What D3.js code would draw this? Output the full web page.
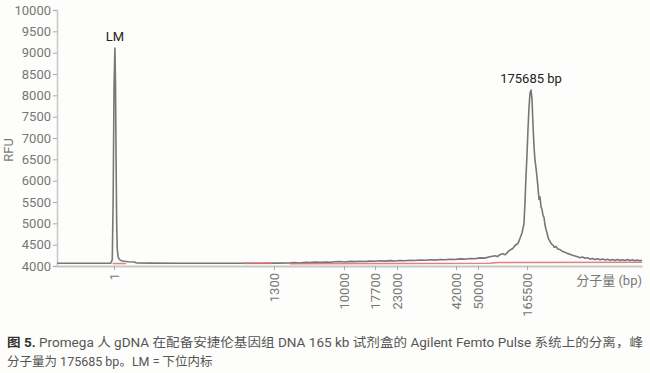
<!DOCTYPE html>
<html><head><meta charset="utf-8">
<script src="https://cdn.jsdelivr.net/npm/d3@7"></script>
<style>
html,body{margin:0;padding:0;background:#fdfdfb;}
svg{display:block;}
text{font-family:Roboto,"Noto Sans CJK SC",sans-serif;}
</style></head>
<body><svg id="c" width="650" height="373"></svg>
<script>
// ---- data ----
const yTicks = [4000,4500,5000,5500,6000,6500,7000,7500,8000,8500,9000,9500,10000];
// ladder sizes (bp) and their migration position (% of run)
const ladderLabels = ["1","1300","10000","17700","23000","42000","50000","165500"];
const ladderPos = [9.74,37.09,49.06,54.36,58.12,68.21,71.97,80.34];
// trace: [position (% of run), RFU]
const trace = [
[0,4065],[3.9,4066],[7.4,4065],[9.2,4066],[9.45,4150],[9.6,5600],[9.75,8200],[9.9,9110],[10.0,8300],[10.1,6500],[10.2,5000],[10.3,4400],[10.45,4210],[10.7,4150],[11.0,4125],[11.5,4110],[12.2,4100],[13.2,4095],[13.6,4072],[15.9,4067],[21,4066],[24.4,4065],[29.6,4066],[34.7,4066],[37.5,4068],[39.8,4070],
[40.5,4078],[41.5,4072],[42.5,4085],[43.2,4080],[44.0,4090],[45.0,4084],[46.0,4095],[46.7,4088],[47.5,4098],[48.4,4105],[49.2,4095],[50.1,4108],[51.0,4102],[51.8,4112],[52.6,4104],[53.5,4115],[54.3,4110],[55.2,4122],[56.0,4114],[56.9,4125],[57.8,4118],[58.6,4130],[59.5,4124],[60.3,4135],[61.2,4128],[62.0,4140],[62.9,4134],[63.8,4145],[64.6,4138],[65.5,4152],[66.3,4146],[67.2,4158],[68.0,4152],[68.9,4166],[69.7,4160],[70.6,4175],[71.4,4170],[72.3,4190],[73.1,4184],[74.0,4215],[74.9,4240],[75.3,4220],[75.7,4265],[76.2,4285],[76.6,4262],[77.0,4320],[77.4,4370],[77.9,4410],[78.3,4480],[78.8,4530],[79.15,4650],[79.5,4780],[79.83,5000],[80.0,5500],[80.17,6100],[80.34,6600],[80.51,7200],[80.68,7700],[80.85,8050],[81.03,8125],[81.2,7900],[81.37,7300],[81.54,6800],[81.71,6480],[81.88,6300],[82.05,6080],[82.22,5850],[82.39,5560],[82.56,5620],[82.74,5380],[82.91,5330],[83.08,5180],[83.25,5140],[83.42,4960],[83.6,4850],[83.76,4780],[84.0,4640],[84.27,4580],[84.5,4520],[84.79,4490],[85.0,4440],[85.3,4460],[85.6,4400],[85.98,4385],[86.4,4340],[86.84,4320],[87.3,4290],[87.69,4275],[88.1,4250],[88.55,4235],[89.0,4215],[89.4,4195],[89.8,4210],[90.26,4180],[90.7,4195],[91.11,4160],[91.5,4178],[91.97,4150],[92.4,4168],[92.82,4145],[93.3,4162],[93.7,4140],[94.1,4158],[94.53,4135],[95.0,4152],[95.4,4130],[95.8,4150],[96.24,4132],[96.7,4148],[97.1,4128],[97.5,4152],[97.95,4130],[98.4,4145],[98.8,4125],[99.2,4142],[99.6,4122],[100,4135]
];
// baseline (red) segments
const baselineSegs = [
 [[9.5,4058],[11.8,4058]],
 [[31.8,4062],[36.8,4062]],
 [[39.8,4055],[74.0,4062],[75.5,4080],[100,4088]]
];
const annotations = [{pos:9.9, rfu:9110, text:"LM"},{pos:81.03, rfu:8125, text:"175685 bp"}];
const yTitle = "RFU";
const xTitle = "分子量 (bp)";
const captionBold = "图 5.";
const captionLine1 = " Promega 人 gDNA 在配备安捷伦基因组 DNA 165 kb 试剂盒的 Agilent Femto Pulse 系统上的分离，峰";
const captionLine2 = "分子量为 175685 bp。LM = 下位内标";

// ---- chart ----
const svg = d3.select("#c");
const W=650,H=373;
svg.append("rect").attr("width",W).attr("height",H).attr("fill","#fdfdfb");
const x = d3.scaleLinear().domain([0,100]).range([57,642]);
const y = d3.scaleLinear().domain([4000,10000]).range([266,10]);

// y axis
const yAx = svg.append("g").attr("transform","translate(57,0)")
  .call(d3.axisLeft(y).tickValues(yTicks).tickSize(4).tickPadding(2).tickFormat(d3.format("d")));
yAx.select(".domain").attr("stroke","#c8c8c8").attr("stroke-width",1.5);
yAx.selectAll(".tick line").attr("stroke","#aaa");
yAx.selectAll(".tick text").attr("fill","#777").style("font-size","13px");

// x axis
const xAx = svg.append("g").attr("transform","translate(0,266)")
  .call(d3.axisBottom(x).tickValues(ladderPos).tickSize(4).tickSizeOuter(0)
        .tickFormat((d,i)=>ladderLabels[i]));
xAx.select(".domain").attr("stroke","#c8c8c8").attr("stroke-width",1.8);
xAx.selectAll(".tick line").attr("stroke","#aaa");
xAx.selectAll(".tick text").attr("fill","#777").style("font-size","13px")
  .attr("transform","rotate(-90)").attr("text-anchor","end")
  .attr("x",-7).attr("y",0).attr("dy","0.35em");

// titles
svg.append("text").attr("transform","translate(13,150) rotate(-90)")
  .attr("text-anchor","middle").attr("fill","#777").style("font-size","13px").text(yTitle);
svg.append("text").attr("x",642).attr("y",285).attr("text-anchor","end")
  .attr("fill","#777").style("font-size","13px").text(xTitle);

// trace
const line = d3.line().x(d=>x(d[0])).y(d=>y(d[1]));
svg.append("path").datum(trace).attr("d",line).attr("fill","none")
  .attr("stroke","#777").attr("stroke-width",1.6).attr("stroke-linejoin","round");
baselineSegs.forEach(s=>{
  svg.append("path").datum(s).attr("d",line).attr("fill","none")
    .attr("stroke","#e06a6a").attr("stroke-width",1.5).attr("opacity",0.85);
});

// annotations
annotations.forEach(a=>{
  svg.append("text").attr("x",x(a.pos)).attr("y",y(a.rfu)-7).attr("text-anchor","middle")
    .attr("fill","#222").style("font-size","13px").text(a.text);
});

// caption
const t1 = svg.append("text").attr("x",7).attr("y",347).attr("fill","#555").style("font-size","12.5px");
t1.append("tspan").attr("font-weight","bold").attr("fill","#333").text(captionBold);
t1.append("tspan").text(captionLine1);
const len = t1.node().getComputedTextLength();
if (len>0) { t1.attr("textLength",636).attr("lengthAdjust","spacingAndGlyphs"); }
svg.append("text").attr("x",7).attr("y",366).attr("fill","#555").style("font-size","12.5px").text(captionLine2);
</script></body></html>
